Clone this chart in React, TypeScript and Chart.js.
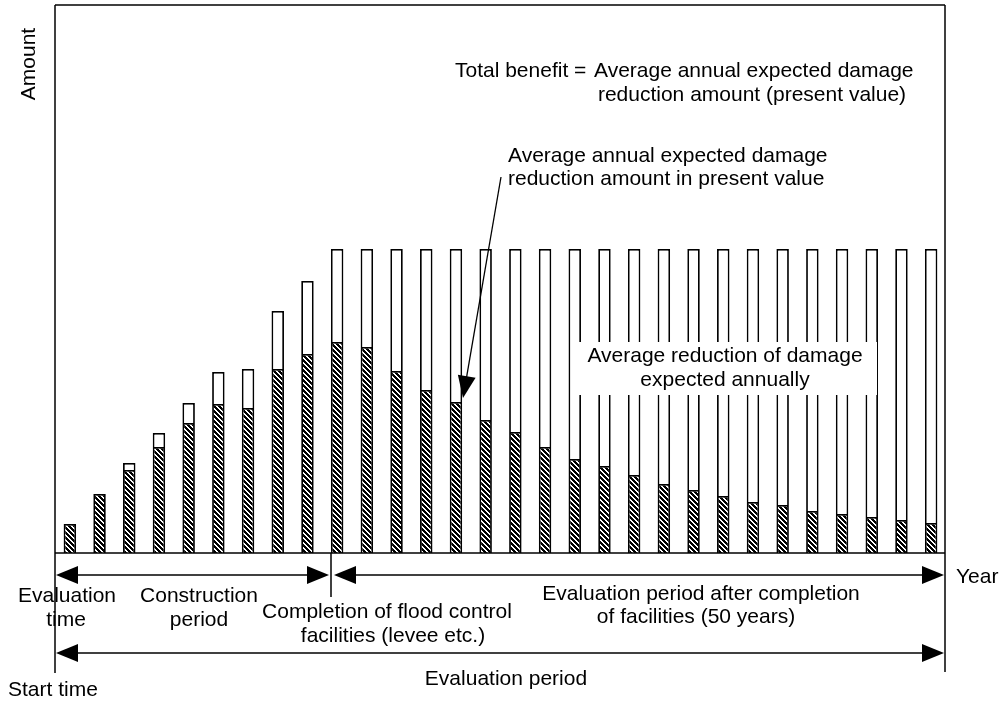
import React, { useEffect, useRef } from "react";
import { Chart, registerables } from "chart.js";

Chart.register(...registerables);

const years = ["1","2","3","4","5","6","7","8","9","10","11","12","13","14","15","16","17","18","19","20","21","22","23","24","25","26","27","28","29","30"];
// hatched part: average annual expected damage reduction in present value
const presentValue = [29,59,83,106,130,149,145,184,199,211,206,182,163,151,133,121,106,94,87,78,69,63,57,51,48,42,39,36,33,30];
// total bar height: average reduction of damage expected annually
const annualReduction = [29,59,90,120,150,181,184,242,272,304,304,304,304,304,304,304,304,304,304,304,304,304,304,304,304,304,304,304,304,304];
const yMax = 548;

const FONT = "21px 'Liberation Sans', Arial, sans-serif";

function makeHatch(): CanvasPattern | string {
  const n = 5;
  const c = document.createElement("canvas");
  c.width = n;
  c.height = n;
  const g = c.getContext("2d");
  if (!g) return "#000";
  g.fillStyle = "#000";
  g.fillRect(0, 0, n, n);
  g.fillStyle = "#fff";
  for (let i = 0; i < n; i++) {
    g.fillRect(i, i, 1, 1);
    g.fillRect((i + 1) % n, i, 1, 1);
  }
  const p = g.createPattern(c, "repeat");
  return p || "#000";
}

function arrowHead(ctx: CanvasRenderingContext2D, tx: number, ty: number, ux: number, uy: number, len = 22, half = 9) {
  const bx = tx - ux * len;
  const by = ty - uy * len;
  const px = -uy;
  const py = ux;
  ctx.beginPath();
  ctx.moveTo(tx, ty);
  ctx.lineTo(bx + px * half, by + py * half);
  ctx.lineTo(bx - px * half, by - py * half);
  ctx.closePath();
  ctx.fill();
}

function line(ctx: CanvasRenderingContext2D, x1: number, y1: number, x2: number, y2: number) {
  ctx.beginPath();
  ctx.moveTo(x1, y1);
  ctx.lineTo(x2, y2);
  ctx.stroke();
}

function dblArrow(ctx: CanvasRenderingContext2D, x1: number, x2: number, y: number) {
  line(ctx, x1 + 5, y, x2 - 5, y);
  arrowHead(ctx, x1, y, -1, 0);
  arrowHead(ctx, x2, y, 1, 0);
}

const overlay = {
  id: "overlay",
  afterDatasetsDraw(chart: any) {
    const ctx: CanvasRenderingContext2D = chart.ctx;
    ctx.save();
    // white label box over bars
    ctx.fillStyle = "#fff";
    ctx.fillRect(572, 342, 305, 53);

    ctx.strokeStyle = "#000";
    ctx.fillStyle = "#000";
    ctx.lineWidth = 1.5;
    // frame
    line(ctx, 55, 5, 945, 5);
    line(ctx, 55, 5, 55, 673);
    line(ctx, 945, 5, 945, 672);
    line(ctx, 55, 553, 945, 553);
    line(ctx, 331, 553, 331, 597);

    // period arrows
    dblArrow(ctx, 56, 329, 575);
    dblArrow(ctx, 334, 944, 575);
    dblArrow(ctx, 56, 944, 653);

    // annotation arrow
    const sx = 501, sy = 177, tx = 463, ty = 398;
    const len = Math.hypot(tx - sx, ty - sy);
    const ux = (tx - sx) / len, uy = (ty - sy) / len;
    ctx.lineWidth = 1.3;
    line(ctx, sx, sy, tx - ux * 10, ty - uy * 10);
    arrowHead(ctx, tx, ty, ux, uy, 22, 9);

    // texts
    ctx.font = FONT;
    ctx.textBaseline = "alphabetic";
    const t = (s: string, x: number, y: number, align: CanvasTextAlign = "left") => {
      ctx.textAlign = align;
      ctx.fillText(s, x, y);
    };
    t("Total benefit = ", 455, 77);
    t("Average annual expected damage", 594, 77);
    t("reduction amount (present value)", 752, 101, "center");

    t("Average annual expected damage", 508, 162);
    t("reduction amount in present value", 508, 185);

    t("Average reduction of damage", 725, 362, "center");
    t("expected annually", 725, 386, "center");

    t("Evaluation", 67, 602, "center");
    t("time", 66, 626, "center");
    t("Construction", 199, 602, "center");
    t("period", 199, 626, "center");
    t("Completion of flood control", 387, 618, "center");
    t("facilities (levee etc.)", 393, 642, "center");
    t("Evaluation period after completion", 701, 600, "center");
    t("of facilities (50 years)", 696, 623, "center");
    t("Year", 956, 583);
    t("Evaluation period", 506, 685, "center");
    t("Start time", 8, 696);

    ctx.save();
    ctx.translate(35, 64);
    ctx.rotate(-Math.PI / 2);
    t("Amount", 0, 0, "center");
    ctx.restore();

    ctx.restore();
  },
};

export default function App() {
  const ref = useRef<HTMLCanvasElement | null>(null);
  useEffect(() => {
    if (!ref.current) return;
    const hatch = makeHatch();
    const remainder = annualReduction.map((v, i) => v - presentValue[i]);
    const chart = new Chart(ref.current, {
      type: "bar",
      data: {
        labels: years,
        datasets: [
          {
            label: "Present value",
            data: presentValue,
            backgroundColor: hatch as any,
            borderColor: "#000",
            borderWidth: 1.8,
            borderSkipped: "start",
            categoryPercentage: 1,
            barPercentage: 0.42,
          },
          {
            label: "Annual reduction",
            data: remainder,
            backgroundColor: "#fff",
            borderColor: "#000",
            borderWidth: 1.8,
            borderSkipped: "start",
            categoryPercentage: 1,
            barPercentage: 0.42,
          },
        ],
      },
      options: {
        responsive: false,
        animation: false,
        devicePixelRatio: 1,
        layout: { padding: { left: 55, right: 58, top: 5, bottom: 148 } },
        plugins: { legend: { display: false }, tooltip: { enabled: false } },
        scales: {
          x: { stacked: true, display: false, offset: true, grid: { display: false } },
          y: { stacked: true, display: false, min: 0, max: yMax },
        },
      },
      plugins: [overlay],
    });
    return () => chart.destroy();
  }, []);
  return (
    <div style={{ position: "absolute", left: 0, top: 0, width: 1004, height: 701, background: "#fff" }}>
      <canvas ref={ref} width={1004} height={701} />
    </div>
  );
}
